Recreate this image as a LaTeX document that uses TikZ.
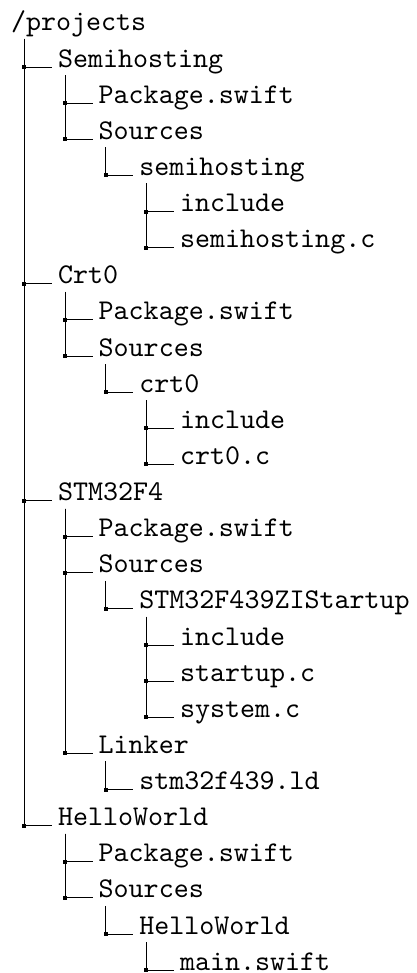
\documentclass[tikz,border=0pt]{standalone}
\usepackage{fontspec}
\newfontfamily\treefont{lmmono10-regular.otf}
\begin{document}
\begin{tikzpicture}[x=0.5pt,y=-0.5pt,
  item/.style={anchor=base west,inner sep=0pt,outer sep=0pt,font=\fontsize{14.3}{17}\selectfont\treefont},
  treeline/.style={line width=0.5pt,black}]
\useasboundingbox (0,0) rectangle (417,973);
\newcommand\mkL[2]{\coordinate (#1L) at ([xshift=#2,yshift=-4pt]#1.base west);}
\newcommand\conn[2]{\draw[treeline] (#1L) |- ([xshift=-3pt]#2.base west);
  \fill (#1L |- #2.base) +(-1pt,-1pt) rectangle +(1pt,1pt);}
\node[item] (r) at (11,31) {/projects};
\node[item] (a) at (58,67.12) {Semihosting};
\node[item] (a1) at (98.7,103.24) {Package.swift};
\node[item] (a2) at (98.7,139.36) {Sources};
\node[item] (a3) at (139.4,175.48) {semihosting};
\node[item] (a4) at (180.1,211.6) {include};
\node[item] (a5) at (180.1,247.72) {semihosting.c};
\node[item] (b) at (58,283.84) {Crt0};
\node[item] (b1) at (98.7,319.96) {Package.swift};
\node[item] (b2) at (98.7,356.08) {Sources};
\node[item] (b3) at (139.4,392.2) {crt0};
\node[item] (b4) at (180.1,428.32) {include};
\node[item] (b5) at (180.1,464.44) {crt0.c};
\node[item] (c) at (58,500.56) {STM32F4};
\node[item] (c1) at (98.7,536.68) {Package.swift};
\node[item] (c2) at (98.7,572.8) {Sources};
\node[item] (c3) at (139.4,608.92) {STM32F439ZIStartup};
\node[item] (c4) at (180.1,645.04) {include};
\node[item] (c5) at (180.1,681.16) {startup.c};
\node[item] (c6) at (180.1,717.28) {system.c};
\node[item] (c7) at (98.7,753.4) {Linker};
\node[item] (c8) at (139.4,789.52) {stm32f439.ld};
\node[item] (d) at (58,825.64) {HelloWorld};
\node[item] (d1) at (98.7,861.76) {Package.swift};
\node[item] (d2) at (98.7,897.88) {Sources};
\node[item] (d3) at (139.4,934) {HelloWorld};
\node[item] (d4) at (180.1,970.12) {main.swift};
\mkL{r}{6.5pt}
\foreach \p in {a,a2,a3,b,b2,b3,c,c2,c3,c7,d,d2,d3}{\mkL{\p}{3.5pt}}
\conn{r}{a}\conn{r}{b}\conn{r}{c}\conn{r}{d}
\conn{a}{a1}\conn{a}{a2}\conn{a2}{a3}\conn{a3}{a4}\conn{a3}{a5}
\conn{b}{b1}\conn{b}{b2}\conn{b2}{b3}\conn{b3}{b4}\conn{b3}{b5}
\conn{c}{c1}\conn{c}{c2}\conn{c2}{c3}\conn{c3}{c4}\conn{c3}{c5}\conn{c3}{c6}\conn{c}{c7}\conn{c7}{c8}
\conn{d}{d1}\conn{d}{d2}\conn{d2}{d3}\conn{d3}{d4}
\end{tikzpicture}
\end{document}
